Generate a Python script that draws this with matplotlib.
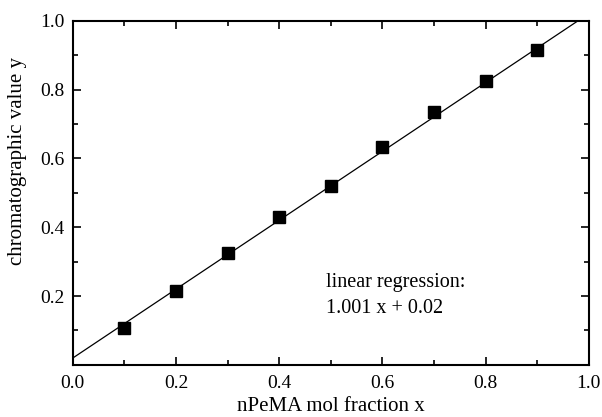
import numpy as np
import matplotlib.pyplot as plt
from matplotlib.ticker import MultipleLocator

# mole fraction of nPeMA and measured chromatographic value
mol_fraction = [0.1, 0.2, 0.3, 0.4, 0.5, 0.6, 0.7, 0.8, 0.9]
chrom_value = [0.108, 0.215, 0.326, 0.430, 0.521, 0.633, 0.735, 0.825, 0.915]

# linear regression result
slope = 1.001
intercept = 0.02

plt.rcParams['font.family'] = ['Liberation Serif', 'DejaVu Serif']

fig = plt.figure(figsize=(6.02, 4.17), dpi=100)
ax = fig.add_axes([0.121, 0.125, 0.857, 0.825])

xfit = np.array([0.0, 1.0])
ax.plot(xfit, slope * xfit + intercept, '-', color='black', lw=0.9)
ax.plot(mol_fraction, chrom_value, 's', color='black', markersize=8.5)

ax.set_xlim(0, 1)
ax.set_ylim(0, 1)
ax.xaxis.set_major_locator(MultipleLocator(0.2))
ax.xaxis.set_minor_locator(MultipleLocator(0.1))
ax.yaxis.set_minor_locator(MultipleLocator(0.1))
ax.set_yticks([0.2, 0.4, 0.6, 0.8, 1.0])
ax.tick_params(which='both', direction='in', top=True, right=True, labelsize=14, width=1.2)
ax.tick_params(axis='x', which='major', pad=7)
ax.tick_params(axis='y', which='major', pad=6)
ax.tick_params(which='major', length=6)
ax.tick_params(which='minor', length=3.5)
for s in ax.spines.values():
    s.set_linewidth(1.5)

ax.set_xlabel("nPeMA mol fraction x", fontsize=15, labelpad=4)
ax.set_ylabel("chromatographic value y", fontsize=15)
ax.yaxis.set_label_coords(-0.088, 0.593)

ax.text(0.49, 0.227, "linear regression:", fontsize=14.5, va='baseline')
ax.text(0.49, 0.151, f"{slope:.3f} x + {intercept:.2f}", fontsize=14.5, va='baseline')

fig.savefig("out.png", dpi=100)
